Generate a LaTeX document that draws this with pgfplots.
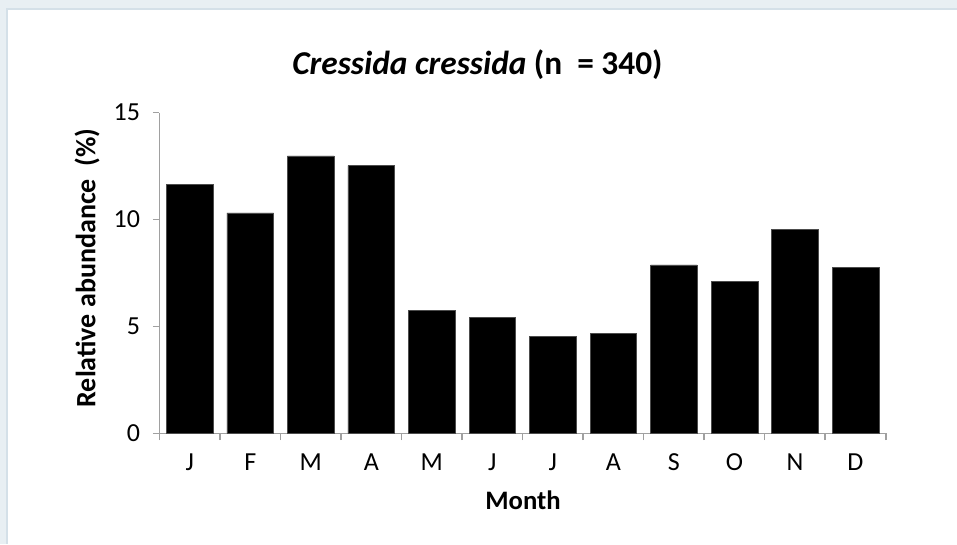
\documentclass[border=0pt]{standalone}
\usepackage{pgfplots}
\pgfplotsset{compat=1.18}
\usepackage{fontspec}
\setmainfont{Carlito}
\definecolor{bgc}{HTML}{E8EFF3}
\definecolor{edgec}{HTML}{D4E0E8}
\definecolor{axc}{HTML}{A0A0A0}
\begin{document}
\begin{tikzpicture}
\useasboundingbox (0,0) rectangle (717.75pt,-408pt);
\fill[bgc] (0,0) rectangle (717.75pt,-408pt);
\fill[white] (5.25pt,-6.75pt) rectangle (717.75pt,-408pt);
\draw[edgec, line width=0.8pt] (5.25pt,-408pt) |- (717.75pt,-6.75pt);
\begin{axis}[
  at={(119.6pt,-325pt)}, anchor=south west,
  scale only axis, width=544.7pt, height=240.5pt,
  xmin=-0.5, xmax=11.5, ymin=0, ymax=15,
  axis x line*=bottom, axis y line*=left,
  axis line style={axc, line width=1.2pt, -},
  ytick={0,5,10,15},
  xtick={0,...,11},
  xticklabels={J,F,M,A,M,J,J,A,S,O,N,D},
  minor xtick={-0.5,0.5,...,11.5},
  tick align=outside,
  major x tick style={draw=none},
  minor tick length=5pt,
  major tick length=5pt,
  tick style={axc, line width=1.2pt},
  every tick label/.append style={font=\fontsize{19.5}{22}\selectfont, text=black},
  /pgf/number format/assume math mode=true,
  xticklabel style={yshift=-7pt},
  yticklabel style={xshift=-6pt},
  ybar, bar width=35pt,
]
\addplot[fill=black, draw=black!70, line width=0.4pt] coordinates {
(0,11.65) (1,10.31) (2,12.98) (3,12.52) (4,5.76) (5,5.43)
(6,4.54) (7,4.66) (8,7.88) (9,7.11) (10,9.53) (11,7.77)};
\end{axis}
\node[font=\bfseries\fontsize{25}{30}\selectfont] at (358.1pt,-48.75pt) {\textit{Cressida cressida} (n\ \ = 340)};
\node[font=\bfseries\fontsize{21}{25}\selectfont, rotate=90] at (65.25pt,-201pt) {Relative abundance\ \ (\%)};
\node[font=\bfseries\fontsize{20}{24}\selectfont] at (392.25pt,-375pt) {Month};
\end{tikzpicture}
\end{document}
